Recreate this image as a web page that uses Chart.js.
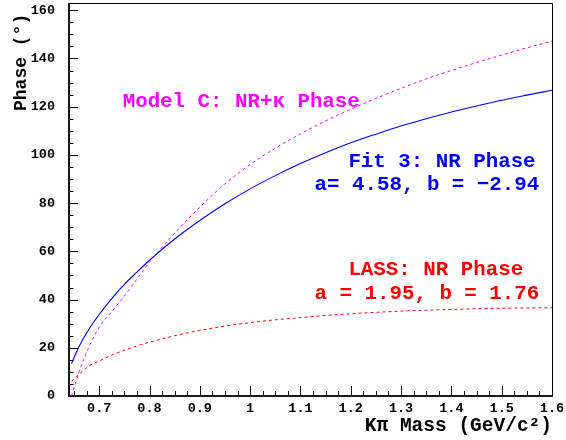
<!DOCTYPE html>
<html>
<head>
<meta charset="utf-8">
<script src="https://cdn.jsdelivr.net/npm/chart.js@4.4.1/dist/chart.umd.min.js"></script>
<style>
  html, body { margin: 0; padding: 0; background: #fff; }
  #wrap { width: 566px; height: 440px; }
</style>
</head>
<body>
<div id="wrap"><canvas id="phaseChart"></canvas></div>
<script>
// Kpi mass (GeV/c^2) and phase curves (degrees)
const mass = [0.645, 0.66, 0.68, 0.70, 0.725, 0.75, 0.775, 0.80, 0.85, 0.90, 0.95, 1.00,
  1.05, 1.10, 1.15, 1.20, 1.25, 1.30, 1.35, 1.40, 1.45, 1.50, 1.55, 1.60];
const fit3Phase = [13.5, 20.5, 27.8, 33.8, 40.4, 46.3, 51.4, 56.3, 65.1, 72.8, 79.7, 85.9,
  91.4, 96.4, 100.9, 105.0, 108.6, 112.0, 115.0, 117.8, 120.3, 122.7, 124.8, 126.8];
const modelCPhase = [0.0, 10.0, 20.5, 28.5, 35.0, 41.5, 48.5, 55.5, 67.5, 78.3, 88.0, 96.0,
  102.8, 108.7, 114.1, 118.9, 123.4, 127.6, 131.5, 135.0, 138.3, 141.4, 144.4, 147.2];
const lassPhase = [6.0, 9.0, 12.5, 14.5, 17.0, 19.0, 20.8, 22.3, 25.0, 27.2, 29.0, 30.4,
  31.6, 32.5, 33.4, 34.1, 34.7, 35.2, 35.6, 35.9, 36.2, 36.4, 36.5, 36.6];

const xTicks = [0.7, 0.8, 0.9, 1.0, 1.1, 1.2, 1.3, 1.4, 1.5, 1.6];
const xTickLabels = ['0.7', '0.8', '0.9', '1', '1.1', '1.2', '1.3', '1.4', '1.5', '1.6'];
const yTicks = [0, 20, 40, 60, 80, 100, 120, 140, 160];

const MONO = "'Liberation Mono', 'DejaVu Sans Mono', monospace";

// text boxes on the plot, anchored in data coordinates
const notes = [
  { text: 'Model C: NR+\u03ba Phase', color: '#ff00ff', x: 0.7467, y: 122.2 },
  { text: 'Fit 3: NR Phase', color: '#0000ff', x: 1.1953, y: 97.3 },
  { text: 'a= 4.58, b = \u22122.94', color: '#0000ff', x: 1.1281, y: 87.6 },
  { text: 'LASS: NR Phase', color: '#ff0000', x: 1.1953, y: 52.2 },
  { text: 'a = 1.95, b = 1.76', color: '#ff0000', x: 1.1281, y: 42.3 }
];

const toXY = vals => mass.map((m, i) => ({ x: m, y: vals[i] }));

// ROOT style frame: inward ticks, thick left/bottom axes
const frameTicks = {
  id: 'frameTicks',
  afterDatasetsDraw(chart) {
    const { ctx, chartArea: a, scales: { x, y } } = chart;
    ctx.save();
    ctx.strokeStyle = '#000';
    ctx.lineWidth = 1;
    ctx.beginPath();
    for (let i = 0; i <= 38; i++) {
      const v = 0.65 + i * 0.025;
      const major = Math.abs(v * 10 - Math.round(v * 10)) < 1e-6;
      const px = Math.round(x.getPixelForValue(v)) + 0.5;
      ctx.moveTo(px, a.bottom);
      ctx.lineTo(px, a.bottom - (major ? 10 : 5));
    }
    for (let v = 0; v <= 160; v += 5) {
      const py = Math.round(y.getPixelForValue(v)) + 0.5;
      ctx.moveTo(a.left, py);
      ctx.lineTo(a.left + (v % 20 === 0 ? 9 : 4.5), py);
    }
    ctx.stroke();

    ctx.beginPath();
    ctx.moveTo(a.left, a.top + 0.5);
    ctx.lineTo(a.right + 0.5, a.top + 0.5);
    ctx.lineTo(a.right + 0.5, a.bottom);
    ctx.stroke();

    ctx.lineWidth = 2;
    ctx.strokeStyle = '#1a1a1a';
    ctx.beginPath();
    ctx.moveTo(a.left, a.top);
    ctx.lineTo(a.left, a.bottom);
    ctx.lineTo(a.right + 1, a.bottom);
    ctx.stroke();

    ctx.font = 'bold 20.8px ' + MONO;
    ctx.textAlign = 'left';
    ctx.textBaseline = 'middle';
    notes.forEach(n => {
      ctx.fillStyle = n.color;
      ctx.fillText(n.text, x.getPixelForValue(n.x), y.getPixelForValue(n.y));
    });
    ctx.restore();
  }
};

new Chart(document.getElementById('phaseChart').getContext('2d'), {
  type: 'line',
  data: {
    datasets: [
      {
        label: 'Model C: NR+\u03ba Phase',
        data: toXY(modelCPhase),
        borderColor: '#ff00ff',
        borderWidth: 1,
        borderDash: [3, 3]
      },
      {
        label: 'Fit 3: NR Phase',
        data: toXY(fit3Phase),
        borderColor: '#0000ff',
        borderWidth: 1.1
      },
      {
        label: 'LASS: NR Phase',
        data: toXY(lassPhase),
        borderColor: '#ff0000',
        borderWidth: 1,
        borderDash: [3, 3]
      }
    ]
  },
  options: {
    responsive: true,
    maintainAspectRatio: false,
    animation: false,
    layout: { padding: { top: 3, right: 14, left: 0, bottom: 0 } },
    elements: {
      point: { radius: 0 },
      line: { cubicInterpolationMode: 'monotone', fill: false }
    },
    plugins: {
      legend: { display: false },
      tooltip: { enabled: false }
    },
    scales: {
      x: {
        type: 'linear',
        min: 0.64,
        max: 1.6,
        grid: { display: false, drawTicks: false },
        border: { display: false },
        afterBuildTicks: s => { s.ticks = xTicks.map(v => ({ value: v })); },
        afterFit: s => { s.height = 44; s.paddingLeft = 0; s.paddingRight = 0; },
        ticks: {
          color: '#000',
          padding: 4,
          maxRotation: 0,
          autoSkip: false,
          font: { family: MONO, size: 13.5, weight: 'bold' },
          callback: (v, i) => xTickLabels[i]
        },
        title: {
          display: true,
          text: 'K\u03c0 Mass (GeV/c\u00b2)',
          align: 'end',
          color: '#000',
          font: { family: MONO, size: 19.5, weight: 'bold' },
          padding: { bottom: 2 }
        }
      },
      y: {
        min: 0,
        max: 163,
        grid: { display: false, drawTicks: false },
        border: { display: false },
        afterBuildTicks: s => { s.ticks = yTicks.map(v => ({ value: v })); },
        afterFit: s => { s.width = 69; s.paddingTop = 0; s.paddingBottom = 0; },
        ticks: {
          color: '#000',
          padding: 14,
          font: { family: MONO, size: 13.5, weight: 'bold' }
        },
        title: {
          display: true,
          text: 'Phase (\u00b0) ',
          align: 'end',
          color: '#000',
          font: { family: MONO, size: 18, weight: 'bold' },
          padding: { top: 11 }
        }
      }
    }
  },
  plugins: [frameTicks]
});
</script>
</body>
</html>
